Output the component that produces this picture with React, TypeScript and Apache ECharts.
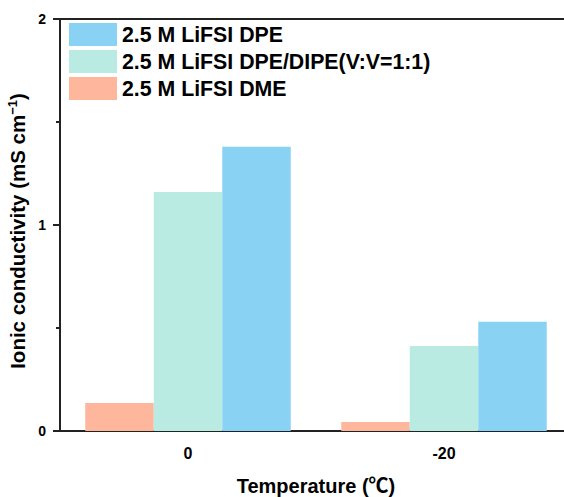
import React, { useEffect, useRef } from "react";
import * as echarts from "echarts";

const categories = ["0", "-20"];
const dmeValues = [0.136, 0.044];
const mixValues = [1.16, 0.413];
const dpeValues = [1.38, 0.53];
const seriesNames = [
  "2.5 M LiFSI DPE",
  "2.5 M LiFSI DPE/DIPE(V:V=1:1)",
  "2.5 M LiFSI DME",
];
const yTitle = "{a|Ionic conductivity (mS cm}{s|−1}{a|)}";
const xTitle = "Temperature (℃)";

const FONT = "Arial, 'Liberation Sans', 'Noto Sans CJK SC', sans-serif";

export default function App() {
  const ref = useRef<HTMLDivElement>(null);
  useEffect(() => {
    document.body.style.margin = "0";
    document.body.style.overflow = "hidden";
    if (!ref.current) return;
    const chart = echarts.init(ref.current, undefined, { renderer: "svg" });
    const axisColor = "#222";
    chart.setOption({
      animation: false,
      backgroundColor: "#fff",
      textStyle: { fontFamily: FONT },
      grid: {
        left: 60,
        top: 19,
        width: 512,
        height: 412,
        containLabel: false,
        outerBoundsMode: "none",
        show: true,
        borderColor: axisColor,
        borderWidth: 2,
        backgroundColor: "transparent",
      },
      legend: {
        data: seriesNames,
        orient: "vertical",
        left: 69,
        top: 23,
        padding: 0,
        itemWidth: 48,
        itemHeight: 23,
        itemGap: 4,
        icon: "rect",
        textStyle: {
          fontFamily: FONT,
          fontWeight: "bold",
          fontSize: 21.3,
          color: "#000",
          lineHeight: 23,
        },
      },
      xAxis: [
        {
          type: "category",
          data: categories,
          position: "bottom",
          axisLine: { lineStyle: { color: axisColor, width: 2 } },
          axisTick: { alignWithLabel: true, length: 7, lineStyle: { color: axisColor, width: 2 } },
          axisLabel: { fontFamily: FONT, fontWeight: "bold", fontSize: 16, color: "#000", margin: 14 },
          name: xTitle,
          nameLocation: "middle",
          nameGap: 45,
          nameTextStyle: { fontFamily: FONT, fontWeight: "bold", fontSize: 20, color: "#000" },
        },
        {
          type: "category",
          data: categories,
          position: "bottom",
          gridIndex: 0,
          axisLine: { show: false },
          axisTick: { alignWithLabel: false, length: 4, lineStyle: { color: axisColor, width: 2 } },
          axisLabel: { show: false },
        },
      ],
      yAxis: {
        type: "value",
        min: 0,
        max: 2,
        interval: 1,
        splitLine: { show: false },
        axisLine: { show: true, lineStyle: { color: axisColor, width: 2 } },
        axisTick: { show: true, length: 7, lineStyle: { color: axisColor, width: 2 } },
        minorTick: { show: true, splitNumber: 2, length: 4, lineStyle: { color: axisColor, width: 2 } },
        axisLabel: { fontFamily: FONT, fontWeight: "bold", fontSize: 14, color: "#000", margin: 14 },
        name: yTitle,
        nameLocation: "middle",
        nameGap: 24,
        nameTextStyle: {
          fontFamily: FONT,
          color: "#000",
          padding: [0, 12, 0, 0],
          rich: {
            a: { fontFamily: FONT, fontWeight: "bold", fontSize: 20.5, color: "#000" },
            s: { fontFamily: FONT, fontWeight: "bold", fontSize: 13, color: "#000", verticalAlign: "top", padding: [0, 0, 10, 0] },
          },
        },
      },
      series: [
        {
          name: seriesNames[2],
          type: "bar",
          data: dmeValues,
          barWidth: 68.5,
          barGap: "0%",
          itemStyle: { color: "#FEB69D" },
        },
        {
          name: seriesNames[1],
          type: "bar",
          data: mixValues,
          barWidth: 68.5,
          barGap: "0%",
          itemStyle: { color: "#BAEBE3" },
        },
        {
          name: seriesNames[0],
          type: "bar",
          data: dpeValues,
          barWidth: 68.5,
          barGap: "0%",
          itemStyle: { color: "#89D2F4" },
        },
      ],
    });
    return () => chart.dispose();
  }, []);
  return <div ref={ref} style={{ width: 564, height: 497, overflow: "hidden" }} />;
}
